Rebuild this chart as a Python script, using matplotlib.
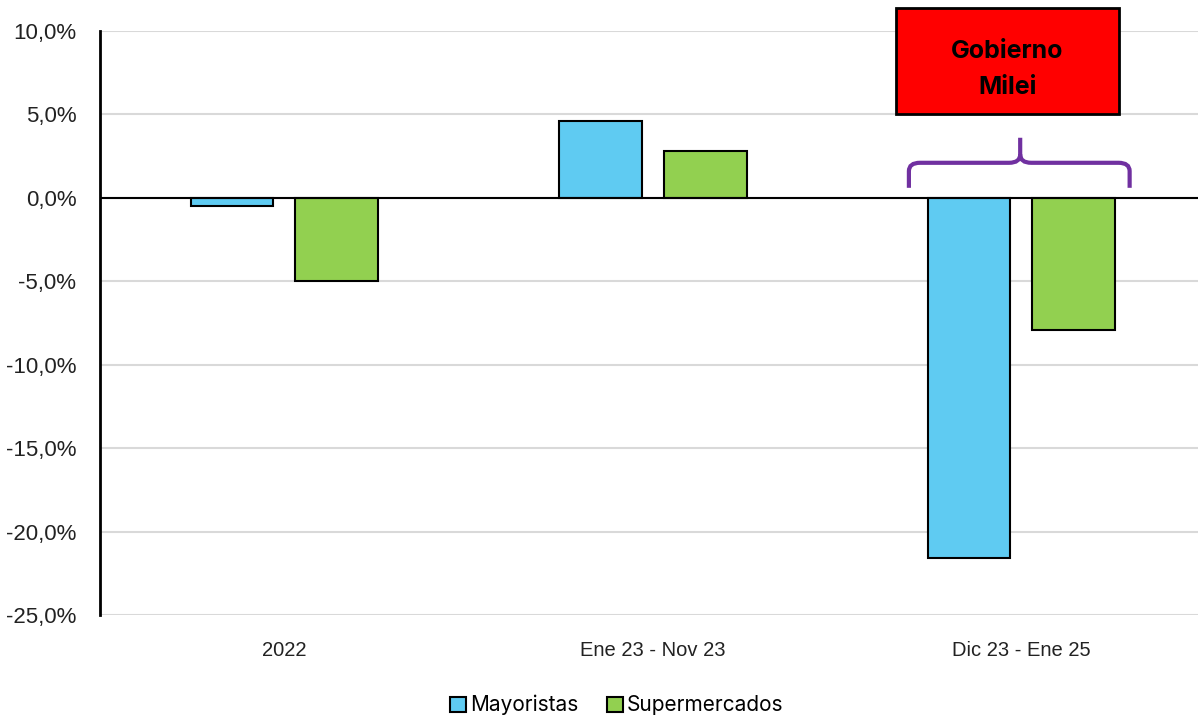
import matplotlib
matplotlib.use("Agg")
import matplotlib.pyplot as plt
import numpy as np
from matplotlib.path import Path
from matplotlib.patches import PathPatch, Rectangle
from matplotlib.ticker import FuncFormatter

categories = ['2022', 'Ene 23 - Nov 23', 'Dic 23 - Ene 25']
mayoristas = [-0.5, 4.6, -21.6]
supermercados = [-5.0, 2.8, -7.9]
yticks = [10, 5, 0, -5, -10, -15, -20, -25]

plt.rcParams['font.family'] = ['Liberation Sans', 'DejaVu Sans']

fig = plt.figure(figsize=(11.98, 7.17), dpi=100)
ax = fig.add_axes([0.0835, 0.1423, 0.9228, 0.8145])

x = np.arange(len(categories))
w = 0.225
ax.bar(x - 0.142, mayoristas, w, color='#5FCBF2', edgecolor='black', linewidth=1.5, label='Mayoristas', zorder=3)
ax.bar(x + 0.142, supermercados, w, color='#92D050', edgecolor='black', linewidth=1.5, label='Supermercados', zorder=3)

ax.set_xlim(-0.5, 2.5)
ax.set_ylim(-25, 10)
ax.set_yticks(yticks)
ax.yaxis.set_major_formatter(FuncFormatter(lambda v, p: f"{v:.1f}%".replace('.', ',')))
ax.grid(axis='y', color='#d9d9d9', linewidth=1.5, zorder=0)
ax.axhline(0, color='black', linewidth=1.5, zorder=4)
ax.set_xticks(x)
ax.set_xticklabels(categories, fontsize=14.5)
ax.tick_params(axis='y', labelsize=16, length=0, pad=17, colors='#222222')
ax.tick_params(axis='x', length=0, pad=19, colors='#222222')
for s in ['top', 'right', 'bottom']:
    ax.spines[s].set_visible(False)
ax.spines['left'].set_linewidth(2)

# caja "Gobierno Milei"
box = Rectangle((1.66, 5.04), 0.605, 6.35, facecolor='#FF0000', edgecolor='black',
                linewidth=2, clip_on=False, zorder=5)
ax.add_patch(box)
ax.text(1.962, 7.7, 'Gobierno\nMilei', ha='center', va='center', fontsize=18,
        fontweight='bold', family=['Inter', 'DejaVu Sans'], linespacing=1.75, zorder=6)

# llave
x0, x1, xc = 1.695, 2.294, 1.997
yb, yh, yt = 0.6, 2.1, 3.6
r = 0.03
verts = [(x0, yb), (x0, yh - 0.5), (x0, yh), (x0 + r, yh),
         (xc - r, yh), (xc, yh), (xc, yh + 0.5), (xc, yt),
         (xc, yh + 0.5), (xc, yh), (xc + r, yh),
         (x1 - r, yh), (x1, yh), (x1, yh - 0.5), (x1, yb)]
codes = [Path.MOVETO, Path.LINETO, Path.CURVE3, Path.CURVE3,
         Path.LINETO, Path.CURVE3, Path.CURVE3, Path.LINETO,
         Path.MOVETO, Path.CURVE3, Path.CURVE3,
         Path.LINETO, Path.CURVE3, Path.CURVE3, Path.LINETO]
ax.add_patch(PathPatch(Path(verts, codes), facecolor='none', edgecolor='#7030A0', linewidth=3, zorder=5))

leg = fig.legend(loc='lower center', bbox_to_anchor=(0.515, -0.024), ncol=2, frameon=False,
                 handlelength=0.75, handleheight=0.75, handletextpad=0.2,
                 columnspacing=1.4, prop={'family': ['Inter', 'DejaVu Sans'], 'size': 15})

fig.savefig('out.png', dpi=100)
